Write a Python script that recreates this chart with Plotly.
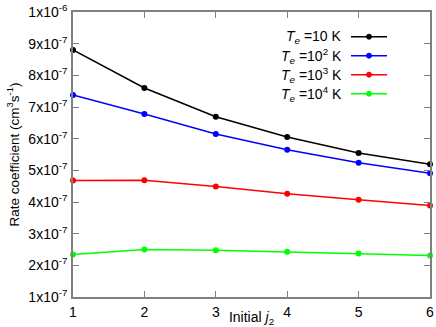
import plotly.graph_objects as go

j2 = [1, 2, 3, 4, 5, 6]
te_10 = [8.8e-7, 7.6e-7, 6.69e-7, 6.05e-7, 5.55e-7, 5.19e-7]
te_1e2 = [7.38e-7, 6.78e-7, 6.15e-7, 5.65e-7, 5.24e-7, 4.91e-7]
te_1e3 = [4.68e-7, 4.69e-7, 4.49e-7, 4.26e-7, 4.07e-7, 3.89e-7]
te_1e4 = [2.34e-7, 2.50e-7, 2.48e-7, 2.43e-7, 2.37e-7, 2.31e-7]

series_names = ["<i>T<sub>e</sub></i> =10 K", "<i>T<sub>e</sub></i> =10<sup>2</sup> K",
                "<i>T<sub>e</sub></i> =10<sup>3</sup> K", "<i>T<sub>e</sub></i> =10<sup>4</sup> K"]
colors = ["#000000", "#0000ff", "#ff0000", "#00ff00"]
series = [te_10, te_1e2, te_1e3, te_1e4]

ytick_vals = [1e-7, 2e-7, 3e-7, 4e-7, 5e-7, 6e-7, 7e-7, 8e-7, 9e-7, 1e-6]
ytick_text = ["1x10<sup>-7</sup>", "2x10<sup>-7</sup>", "3x10<sup>-7</sup>", "4x10<sup>-7</sup>",
              "5x10<sup>-7</sup>", "6x10<sup>-7</sup>", "7x10<sup>-7</sup>", "8x10<sup>-7</sup>",
              "9x10<sup>-7</sup>", "1x10<sup>-6</sup>"]

FONT = "Liberation Sans, Arial, sans-serif"
fig = go.Figure()
for name, c, ys in zip(series_names, colors, series):
    fig.add_trace(go.Scatter(x=j2, y=ys, mode="lines+markers", name=name,
                             line=dict(color=c, width=1.5),
                             marker=dict(color=c, size=6),
                             cliponaxis=False, showlegend=False))

# manual legend (text right, sample on the right)
W, H = 436, 327
ml, mr, mt, mb = 73, 6, 12, 30
pw, ph = W - ml - mr, H - mt - mb
def px(x):
    return (x - ml) / pw
def py(y):
    return 1 - (y - mt) / ph
rows = [36.7, 55.7, 74.7, 93.7]
for name, c, ry in zip(series_names, colors, rows):
    fig.add_annotation(xref="paper", yref="paper", x=px(344), y=py(ry), text=name,
                       showarrow=False, xanchor="right", yanchor="middle",
                       font=dict(family=FONT, size=14, color="black"))
    fig.add_shape(type="line", xref="paper", yref="paper", x0=px(351), x1=px(387),
                  y0=py(ry), y1=py(ry), line=dict(color=c, width=1.5))
    fig.add_shape(type="circle", xref="paper", yref="paper", x0=px(366.5), x1=px(371.5),
                  y0=py(ry + 2.5), y1=py(ry - 2.5), line=dict(color=c, width=1), fillcolor=c)

axis_common = dict(showline=True, linecolor="#808080", linewidth=1.5, mirror="ticks",
                   ticks="inside", ticklen=6, tickcolor="#808080", tickwidth=1,
                   showgrid=False, zeroline=False, automargin=False,
                   tickfont=dict(family=FONT, size=14, color="black"))
fig.update_xaxes(range=[1, 6], tickvals=j2, ticktext=[str(v) for v in j2],
                 ticklabelstandoff=1,
                 title=dict(text="Initial <i>j</i><sub>2</sub>", standoff=0,
                            font=dict(family=FONT, size=14, color="black")),
                 **axis_common)
fig.update_yaxes(range=[1e-7, 1e-6], tickvals=ytick_vals, ticktext=ytick_text,
                 ticklabelstandoff=1,
                 title=dict(text="Rate coefficient (cm<sup>3</sup>s<sup>-1</sup>)", standoff=6,
                            font=dict(family=FONT, size=13.5, color="black")),
                 **axis_common)
fig.update_layout(width=W, height=H, autosize=False,
                  margin=dict(l=ml, r=mr, t=mt, b=mb),
                  plot_bgcolor="white", paper_bgcolor="white",
                  font=dict(family=FONT, size=14, color="black"))
fig.write_html("out.html", config={"displayModeBar": False},
               post_script="document.body.style.margin='0';document.body.style.padding='0';document.body.style.overflow='hidden';")
